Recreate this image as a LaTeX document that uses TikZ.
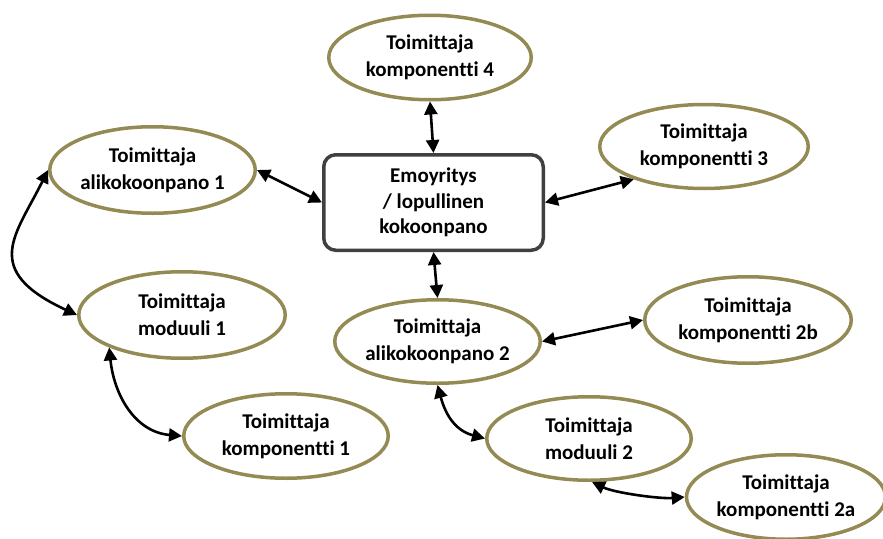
\documentclass[tikz,border=0pt]{standalone}
\usepackage{fontspec}
\setmainfont[Ligatures=NoCommon]{Carlito}
\usetikzlibrary{shapes.geometric,arrows.meta}
\definecolor{ellcol}{HTML}{948A54}
\definecolor{boxgray}{HTML}{404040}
\begin{document}
\begin{tikzpicture}[x=1pt,y=-1pt,
  supplier/.style={ellipse,draw=ellcol,line width=3.5pt,fill=white,inner sep=0pt,align=center,
    font=\fontsize{21}{27}\selectfont\bfseries},
  mainbox/.style={draw=boxgray,line width=3.5pt,rounded corners=12pt,fill=white,inner sep=0pt,align=center,
    font=\fontsize{21}{25.5}\selectfont\bfseries},
  lnk/.style={line width=2.6pt,{Triangle[length=13pt,width=13pt]}-{Triangle[length=13pt,width=13pt]}}]
\useasboundingbox (0,0) rectangle (883,538);
\node[mainbox,minimum width=219.5pt,minimum height=95.5pt] (box) at (433.5,202.5) {Emoyritys\\/ lopullinen\\kokoonpano};
\node[supplier,minimum width=202.5pt,minimum height=84.5pt] (k4) at (430,57.5) {Toimittaja\\komponentti 4};
\node[supplier,minimum width=208.5pt,minimum height=84pt] (k3) at (704,146.5) {Toimittaja\\komponentti 3};
\node[supplier,minimum width=205.5pt,minimum height=86.5pt] (a1) at (152.5,170) {Toimittaja\\alikokoonpano 1};
\node[supplier,minimum width=206.5pt,minimum height=86.5pt] (m1) at (182,315) {Toimittaja\\moduuli 1};
\node[supplier,minimum width=204.5pt,minimum height=84.5pt] (k1) at (286,436) {Toimittaja\\komponentti 1};
\node[supplier,minimum width=205.5pt,minimum height=83.5pt] (a2) at (437.5,341.5) {Toimittaja\\alikokoonpano 2};
\node[supplier,minimum width=206.5pt,minimum height=86.5pt] (k2b) at (748,320) {Toimittaja\\komponentti 2b};
\node[supplier,minimum width=204.5pt,minimum height=83.5pt] (m2) at (589,438.5) {Toimittaja\\moduuli 2};
\node[supplier,minimum width=199pt,minimum height=84.5pt] (k2a) at (786,497) {Toimittaja\\komponentti 2a};

\draw[lnk] (k4.south) -- (box.north);
\draw[lnk] (box.south) -- (a2.north);
\draw[lnk] (a1.east) -- (box.west);
\draw[lnk] (box.east) -- (k3.205);
\draw[lnk] (a2.east) -- (k2b.west);
\draw[lnk] (a1.west) .. controls (16,235) and (-20,270) .. (m1.west);
\draw[lnk] (m1.204) .. controls (114,395) and (135,432) .. (k1.west);
\draw[lnk] (a2.south) .. controls (444.5,411) and (453,430) .. (m2.west);
\draw[lnk] (m2.-86) .. controls (615,493) and (660,499) .. (k2a.west);
\end{tikzpicture}
\end{document}
